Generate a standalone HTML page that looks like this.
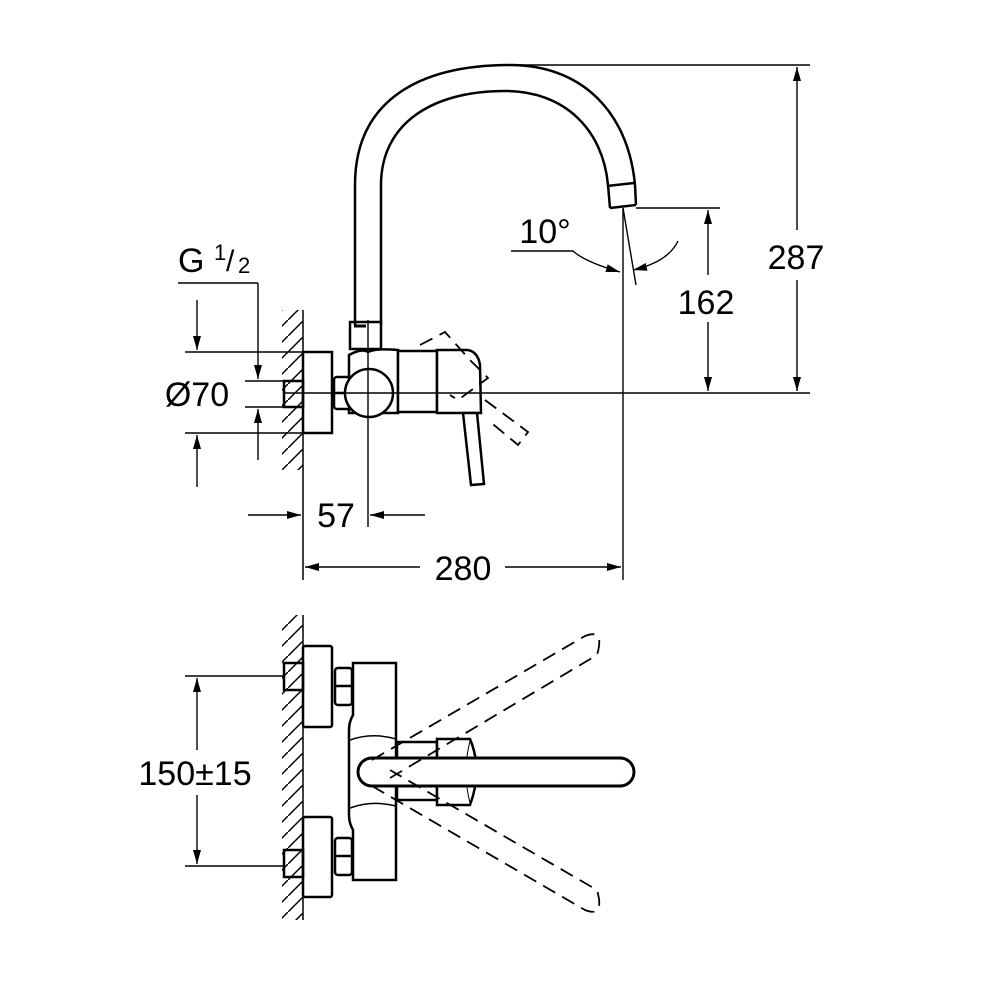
<!DOCTYPE html>
<html><head><meta charset="utf-8"><style>
html,body{margin:0;padding:0;background:#fff}
svg{display:block}
text{font-family:"Liberation Sans",sans-serif;font-size:34px;fill:#000}
</style></head><body>
<svg width="990" height="990" viewBox="0 0 990 990" xmlns="http://www.w3.org/2000/svg">
<defs>
<pattern id="h" width="16" height="16" patternUnits="userSpaceOnUse">
<path d="M-4,20 L20,-4" stroke="#000" stroke-width="1.5"/>
</pattern>
<marker id="b" markerWidth="14" markerHeight="8" refX="14" refY="4" orient="auto" markerUnits="userSpaceOnUse" viewBox="0 0 14 8">
<path d="M0,0 L14,4 L0,8 z" fill="#000"/></marker>
</defs>
<g fill="none" stroke="#000" stroke-width="2.5">
<!-- ========== TOP VIEW ========== -->
<rect x="282" y="310" width="21" height="160" fill="url(#h)" stroke="none"/>
<line x1="303" y1="310" x2="303" y2="580" stroke-width="1.5"/>
<path d="M355,325 L355,185 C355,100 420,65 510,65 C580,65 628,110 635,185 L636,205"/>
<path d="M381,325 L381,185 C381,125 430,91 505,91 C565,91 603,130 608,185 L610,208"/>
<path d="M607,186 L634,183"/>
<path d="M610,208 L636,205"/>
<rect x="350" y="322" width="31" height="27"/>
<line x1="354" y1="326" x2="366" y2="326" stroke-width="3"/>
<rect x="303" y="352" width="29" height="81" fill="#fff"/>
<rect x="284" y="381" width="19" height="26"/>
<rect x="334" y="377" width="18" height="32" rx="3"/>
<line x1="334" y1="393" x2="352" y2="393"/>
<path d="M349,413 L349,355 Q362,348 368,352 Q376,348 398,350 L398,413 Z" fill="#fff"/>
<circle cx="369" cy="393" r="24" fill="#fff"/>
<rect x="398" y="351" width="39" height="61" fill="#fff"/>
<path d="M437,350 L468,350 Q478,352 480,365 L481,413 L437,413 Z" fill="#fff"/>
<path d="M463,413 L477,413 L484,484 L471,485 Z" fill="#fff"/>
<g stroke-dasharray="14,8" stroke-width="1.8">
<path d="M420,345 L445,332 L470,360 L488,378 L458,400 L450,395"/>
<path d="M485,400 L528,432 L518,445 L488,420"/>
</g>
<line x1="283" y1="393" x2="810" y2="393" stroke-width="1.4"/>
<line x1="368" y1="320" x2="368" y2="527" stroke-width="1.4"/>
<line x1="510" y1="65" x2="810" y2="65" stroke-width="1.4"/>
<line x1="797" y1="230" x2="797" y2="67" stroke-width="1.4" marker-end="url(#b)"/>
<line x1="797" y1="280" x2="797" y2="391" stroke-width="1.4" marker-end="url(#b)"/>
<line x1="636" y1="208" x2="720" y2="208" stroke-width="1.4"/>
<line x1="708" y1="275" x2="708" y2="210" stroke-width="1.4" marker-end="url(#b)"/>
<line x1="708" y1="322" x2="708" y2="391" stroke-width="1.4" marker-end="url(#b)"/>
<line x1="623" y1="208" x2="623" y2="580" stroke-width="1.4"/>
<line x1="623" y1="208" x2="636" y2="285" stroke-width="1.4"/>
<path d="M511,251 L573,251 Q585,262 620,272" stroke-width="1.4" marker-end="url(#b)"/>
<path d="M678,241 Q668,262 633,270" stroke-width="1.4" marker-end="url(#b)"/>
<line x1="420" y1="567" x2="305" y2="567" stroke-width="1.4" marker-end="url(#b)"/>
<line x1="505" y1="567" x2="621" y2="567" stroke-width="1.4" marker-end="url(#b)"/>
<line x1="248" y1="515" x2="301" y2="515" stroke-width="1.4" marker-end="url(#b)"/>
<line x1="425" y1="515" x2="370" y2="515" stroke-width="1.4" marker-end="url(#b)"/>
<line x1="185" y1="352" x2="303" y2="352" stroke-width="1.4"/>
<line x1="185" y1="433" x2="303" y2="433" stroke-width="1.4"/>
<line x1="197" y1="300" x2="197" y2="350" stroke-width="1.4" marker-end="url(#b)"/>
<line x1="197" y1="487" x2="197" y2="435" stroke-width="1.4" marker-end="url(#b)"/>
<line x1="178" y1="283" x2="258" y2="283" stroke-width="1.4"/>
<line x1="258" y1="283" x2="258" y2="379" stroke-width="1.4" marker-end="url(#b)"/>
<line x1="258" y1="460" x2="258" y2="409" stroke-width="1.4" marker-end="url(#b)"/>
<line x1="245" y1="381" x2="284" y2="381" stroke-width="1.4"/>
<line x1="245" y1="407" x2="284" y2="407" stroke-width="1.4"/>

<!-- ========== BOTTOM VIEW ========== -->
<rect x="282" y="615" width="21" height="305" fill="url(#h)" stroke="none"/>
<line x1="303" y1="615" x2="303" y2="920" stroke-width="1.5"/>
<rect x="303" y="646" width="29" height="81" rx="2" fill="#fff"/>
<rect x="284" y="663" width="19" height="27"/>
<rect x="335" y="668" width="17" height="37" rx="3"/>
<line x1="335" y1="686" x2="352" y2="686"/>
<rect x="303" y="817" width="29" height="80" rx="2" fill="#fff"/>
<rect x="284" y="850" width="19" height="27"/>
<rect x="335" y="838" width="17" height="37" rx="3"/>
<line x1="335" y1="856" x2="352" y2="856"/>
<path d="M353,663 L396,663 L396,880 L353,880 L353,830 Q349,823 349,815 L349,730 Q349,722 353,715 Z" fill="#fff"/>
<path d="M350,740 Q372,732 396,739" stroke-width="1.5"/>
<path d="M350,808 Q372,800 396,806" stroke-width="1.5"/>
<rect x="397" y="742" width="40" height="58" fill="#fff"/>
<path d="M437,739 L470,739 Q483,770 470,805 L437,805 Z" fill="#fff"/>
<path d="M470,741 Q462,772 470,803" stroke-width="1"/>
<path d="M372,758 L620,758 A14,14 0 0 1 620,786 L372,786 A14,14 0 0 1 372,758 Z" fill="#fff" stroke-width="3"/>
<g stroke-dasharray="14,8" stroke-width="1.8">
<path d="M372,760 L585,636 Q605,628 597,655 L390,778"/>
<path d="M372,786 L585,910 Q605,918 597,890 L390,770"/>
</g>
<line x1="185" y1="676" x2="284" y2="676" stroke-width="1.4"/>
<line x1="185" y1="866" x2="284" y2="866" stroke-width="1.4"/>
<line x1="197" y1="750" x2="197" y2="678" stroke-width="1.4" marker-end="url(#b)"/>
<line x1="197" y1="795" x2="197" y2="864" stroke-width="1.4" marker-end="url(#b)"/>
</g>
<text x="796" y="269" text-anchor="middle">287</text>
<text x="706" y="314" text-anchor="middle">162</text>
<text x="545" y="243" text-anchor="middle">10°</text>
<text x="463" y="580" text-anchor="middle">280</text>
<text x="336" y="527" text-anchor="middle">57</text>
<text x="197" y="406" text-anchor="middle">Ø70</text>
<text x="178" y="272">G</text>
<text x="214" y="260" style="font-size:22px">1</text>
<text x="226" y="271" style="font-size:30px">/</text>
<text x="238" y="273" style="font-size:22px">2</text>
<text x="195" y="785" text-anchor="middle">150±15</text>
</svg>
</body></html>
